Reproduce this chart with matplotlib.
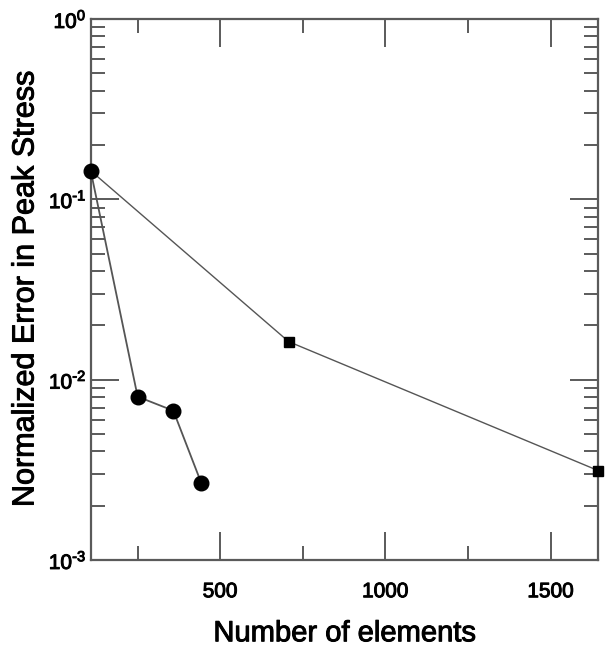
import matplotlib
matplotlib.use("Agg")
import matplotlib.pyplot as plt
import matplotlib.patheffects as pe
from matplotlib.ticker import FixedLocator, LogLocator, NullFormatter

plt.rcParams['font.family'] = ['Liberation Sans', 'DejaVu Sans']
plt.rcParams['mathtext.fontset'] = 'custom'
plt.rcParams['mathtext.rm'] = 'Liberation Sans'
plt.rcParams['mathtext.it'] = 'Liberation Sans'
plt.rcParams['mathtext.default'] = 'regular'

# data
circle_x = [108, 250, 358, 443]
circle_y = [0.144, 0.00805, 0.00673, 0.00266]
square_x = [108, 707, 1644]
square_y = [0.144, 0.01625, 0.00313]
x_major = [500, 1000, 1500]
x_minor = [250, 750, 1250]
y_major = [1e-3, 1e-2, 1e-1, 1e0]
y_labels = ['\u20103', '\u20102', '\u20101', '0']

fig = plt.figure(figsize=(6.06, 6.48), dpi=100)
ax = fig.add_axes([0.1497, 0.1358, 0.9873 - 0.1497, 0.9707 - 0.1358])

line_col = '#555555'
ax.plot(square_x, square_y, '-', color=line_col, lw=1.0, zorder=2)
ax.plot(square_x[1:], square_y[1:], 's', color='black', ms=7.5, zorder=3, clip_on=False)
ax.plot(circle_x, circle_y, '-', color=line_col, lw=1.3, zorder=2)
ax.plot(circle_x, circle_y, 'o', color='black', ms=10.5, zorder=4, clip_on=False)

ax.set_yscale('log')
ax.set_xlim(108, 1644)
ax.set_ylim(1e-3, 1e0)

ax.xaxis.set_major_locator(FixedLocator(x_major))
ax.xaxis.set_minor_locator(FixedLocator(x_minor))
ax.set_xticklabels([str(v) for v in x_major])
ax.yaxis.set_major_locator(FixedLocator(y_major))
ax.yaxis.set_minor_locator(LogLocator(base=10, subs=range(2, 10)))
ax.yaxis.set_minor_formatter(NullFormatter())
ax.set_yticklabels(['10$^{%s}$' % s for s in y_labels])

spine_col = '#5a5a5a'
for s in ax.spines.values():
    s.set_color(spine_col)
    s.set_linewidth(1.6)

ax.tick_params(which='major', direction='in', length=20, width=1.4, color=spine_col,
               top=True, right=True, labelsize=15)
ax.tick_params(which='minor', direction='in', length=10, width=1.4, color=spine_col,
               top=True, right=True)
ax.tick_params(axis='x', which='major', pad=16)
ax.tick_params(axis='y', which='major', pad=3)

bold = [pe.withStroke(linewidth=0.7, foreground='black')]
for lab in ax.get_xticklabels() + ax.get_yticklabels():
    lab.set_path_effects(bold)

ax.set_xlabel('Number of elements', fontsize=21, labelpad=13, path_effects=bold)
ax.set_ylabel('Normalized Error in Peak Stress', fontsize=22, labelpad=6, path_effects=bold)

fig.savefig('out.png', dpi=100)
